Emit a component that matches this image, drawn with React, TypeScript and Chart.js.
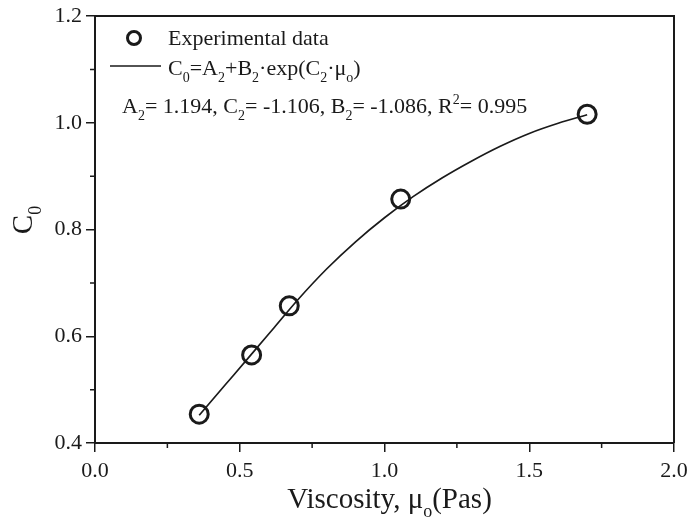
import React, { useEffect, useRef } from "react";
import { Chart, registerables } from "chart.js";

Chart.register(...registerables);

// Experimental data (viscosity in Pas, C0)
const expX = [0.36, 0.541, 0.671, 1.056, 1.70];
const expY = [0.454, 0.565, 0.657, 0.857, 1.016];

// Fitted curve
const fitX = [0.36, 0.45, 0.54, 0.62, 0.70, 0.80, 0.90, 1.00, 1.10, 1.20, 1.30, 1.40, 1.50, 1.60, 1.70];
const fitY = [0.452, 0.509, 0.566, 0.617, 0.668, 0.726, 0.777, 0.822, 0.862, 0.897, 0.928, 0.956, 0.980, 0.999, 1.015];

const xTicks = [0, 0.5, 1.0, 1.5, 2.0];
const yTicks = [0.4, 0.6, 0.8, 1.0, 1.2];
const xMinor = [0.25, 0.75, 1.25, 1.75];
const yMinor = [0.5, 0.7, 0.9, 1.1];

type Seg = { t: string; k?: "sub" | "sup" };

const legendPoints: Seg[] = [{ t: "Experimental data" }];
const legendFit: Seg[] = [
  { t: "C" }, { t: "0", k: "sub" }, { t: "=A" }, { t: "2", k: "sub" }, { t: "+B" }, { t: "2", k: "sub" },
  { t: "\u00B7exp(C" }, { t: "2", k: "sub" }, { t: "\u00B7\u03BC" }, { t: "o", k: "sub" }, { t: ")" },
];
const fitParams: Seg[] = [
  { t: "A" }, { t: "2", k: "sub" }, { t: "= 1.194, C" }, { t: "2", k: "sub" }, { t: "= -1.106, B" },
  { t: "2", k: "sub" }, { t: "= -1.086, R" }, { t: "2", k: "sup" }, { t: "= 0.995" },
];
const xTitle: Seg[] = [{ t: "Viscosity, \u03BC" }, { t: "o", k: "sub" }, { t: "(Pas)" }];
const yTitle: Seg[] = [{ t: "C" }, { t: "0", k: "sub" }];

const FONT = "'Liberation Serif', 'Times New Roman', serif";
const INK = "#1a1a1a";

function segFont(size: number, k?: string) {
  return `${k ? Math.round(size * 0.62) : size}px ${FONT}`;
}
function richWidth(ctx: CanvasRenderingContext2D, segs: Seg[], size: number) {
  let w = 0;
  for (const s of segs) {
    ctx.font = segFont(size, s.k);
    w += ctx.measureText(s.t).width;
  }
  return w;
}
function drawRich(ctx: CanvasRenderingContext2D, segs: Seg[], x: number, y: number, size: number, align: "left" | "center") {
  let cx = align === "center" ? x - richWidth(ctx, segs, size) / 2 : x;
  ctx.textAlign = "left";
  ctx.textBaseline = "alphabetic";
  for (const s of segs) {
    ctx.font = segFont(size, s.k);
    const dy = s.k === "sub" ? size * 0.3 : s.k === "sup" ? -size * 0.42 : 0;
    ctx.fillText(s.t, cx, y + dy);
    cx += ctx.measureText(s.t).width;
  }
}

const decorPlugin = {
  id: "decor",
  afterDraw(chart: any) {
    const ctx: CanvasRenderingContext2D = chart.ctx;
    const { left, right, top, bottom } = chart.chartArea;
    const xs = chart.scales.x;
    const ys = chart.scales.y;
    ctx.save();
    ctx.strokeStyle = INK;
    ctx.fillStyle = INK;
    // top & right frame
    ctx.lineWidth = 2;
    ctx.beginPath();
    ctx.moveTo(left, top);
    ctx.lineTo(right, top);
    ctx.lineTo(right, bottom);
    ctx.stroke();
    // minor ticks
    ctx.lineWidth = 1.5;
    ctx.beginPath();
    for (const v of xMinor) {
      const px = xs.getPixelForValue(v);
      ctx.moveTo(px, bottom);
      ctx.lineTo(px, bottom + 5);
    }
    for (const v of yMinor) {
      const py = ys.getPixelForValue(v);
      ctx.moveTo(left, py);
      ctx.lineTo(left - 5, py);
    }
    ctx.stroke();

    // axis titles
    drawRich(ctx, xTitle, (left + right) / 2 + 5, 508, 29, "center");
    ctx.save();
    ctx.translate(32, 220);
    ctx.rotate(-Math.PI / 2);
    drawRich(ctx, yTitle, 0, 0, 29, "center");
    ctx.restore();

    // legend
    ctx.lineWidth = 3;
    ctx.beginPath();
    ctx.arc(134, 38, 6.5, 0, Math.PI * 2);
    ctx.stroke();
    drawRich(ctx, legendPoints, 168, 45, 22, "left");
    ctx.lineWidth = 1.6;
    ctx.beginPath();
    ctx.moveTo(110, 66);
    ctx.lineTo(161, 66);
    ctx.stroke();
    drawRich(ctx, legendFit, 168, 75, 22, "left");
    drawRich(ctx, fitParams, 122, 113, 22, "left");
    ctx.restore();
  },
};

export default function App() {
  const ref = useRef<HTMLCanvasElement | null>(null);
  useEffect(() => {
    if (!ref.current) return;
    const tickFont = { family: FONT, size: 22 };
    const chart = new Chart(ref.current, {
      type: "scatter",
      data: {
        datasets: [
          {
            label: "fit",
            data: fitX.map((x, i) => ({ x, y: fitY[i] })),
            showLine: true,
            borderColor: INK,
            borderWidth: 1.7,
            pointRadius: 0,
            cubicInterpolationMode: "monotone",
            order: 2,
          } as any,
          {
            label: "Experimental data",
            data: expX.map((x, i) => ({ x, y: expY[i] })),
            showLine: false,
            pointStyle: "circle",
            pointRadius: 9,
            pointBorderWidth: 3,
            pointBackgroundColor: "rgba(0,0,0,0)",
            pointBorderColor: INK,
            order: 1,
          } as any,
        ],
      },
      options: {
        animation: false,
        responsive: true,
        maintainAspectRatio: false,
        layout: { padding: { top: 16, right: 16, left: 0, bottom: 0 } },
        plugins: { legend: { display: false }, tooltip: { enabled: false } },
        scales: {
          x: {
            type: "linear",
            min: 0,
            max: 2,
            afterBuildTicks: (s: any) => { s.ticks = xTicks.map((v) => ({ value: v })); },
            afterFit: (s: any) => { s.height = 80; s.paddingRight = 0; s.paddingLeft = 0; },
            ticks: { font: tickFont, color: INK, padding: 6, maxRotation: 0, autoSkip: false, callback: (v: any) => Number(v).toFixed(1) },
            grid: { drawOnChartArea: false, drawTicks: true, tickLength: 9, color: INK, lineWidth: 1.5 },
            border: { display: true, color: INK, width: 2 },
          },
          y: {
            type: "linear",
            min: 0.4,
            max: 1.2,
            afterBuildTicks: (s: any) => { s.ticks = yTicks.map((v) => ({ value: v })); },
            afterFit: (s: any) => { s.width = 95; s.paddingTop = 0; s.paddingBottom = 0; },
            ticks: { font: tickFont, color: INK, padding: 4, autoSkip: false, callback: (v: any) => Number(v).toFixed(1) },
            grid: { drawOnChartArea: false, drawTicks: true, tickLength: 9, color: INK, lineWidth: 1.5 },
            border: { display: true, color: INK, width: 2 },
          },
        },
      } as any,
      plugins: [decorPlugin],
    });
    return () => chart.destroy();
  }, []);
  return (
    <div style={{ position: "fixed", left: 0, top: 0, width: 690, height: 523, background: "#fff" }}>
      <canvas ref={ref} />
    </div>
  );
}
